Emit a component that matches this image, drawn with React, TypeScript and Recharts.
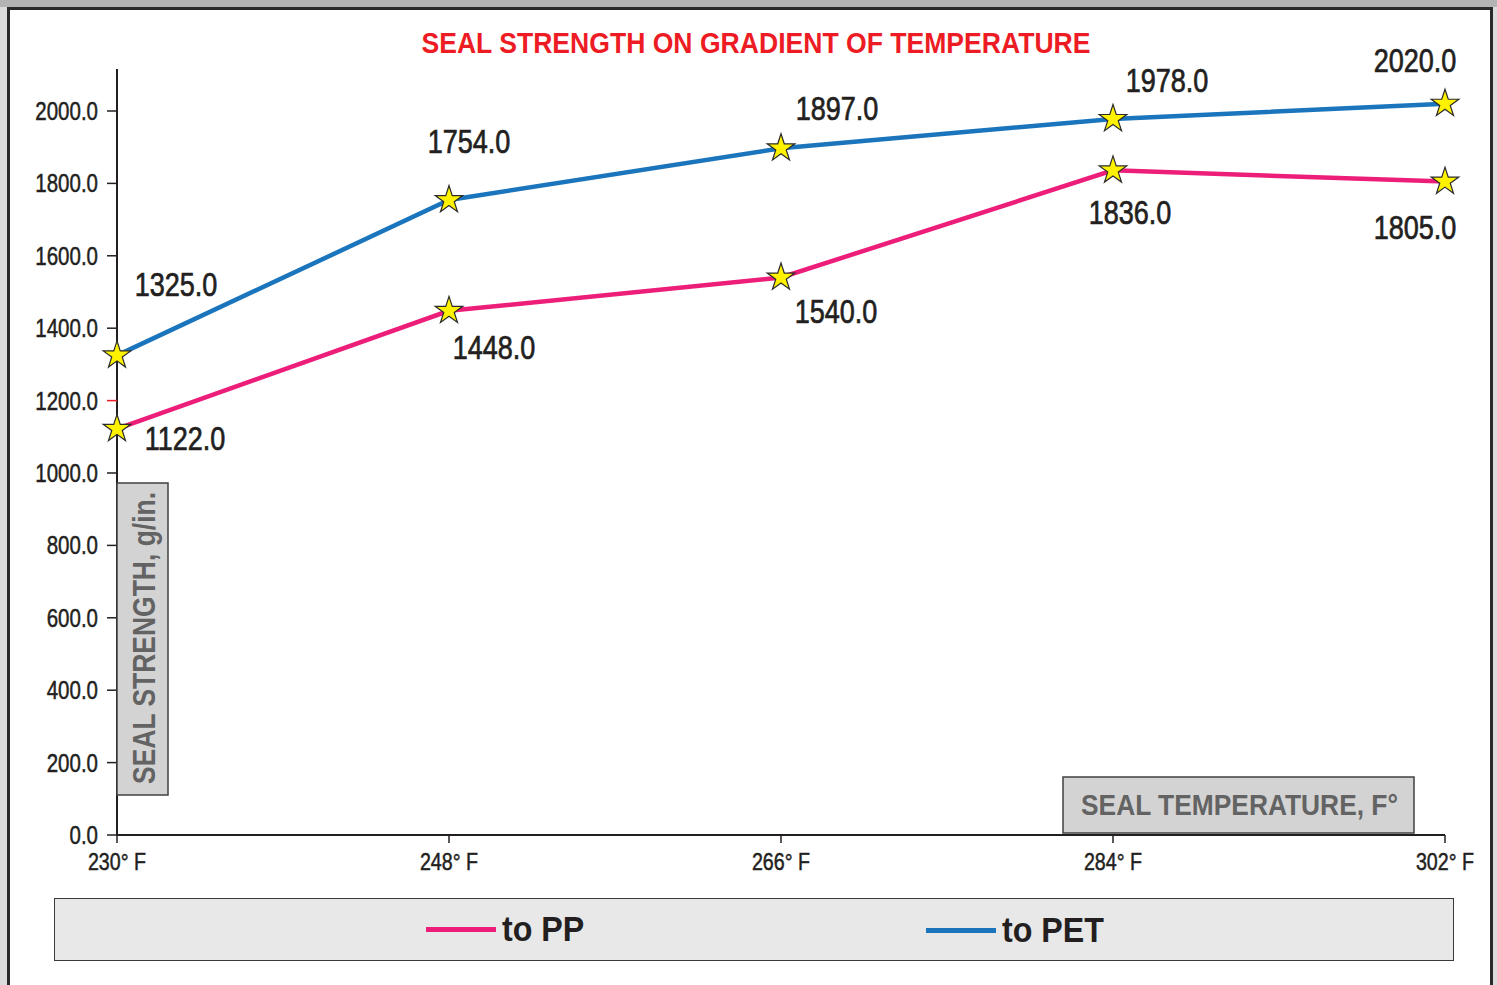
import React from 'react';
import { LineChart, Line, XAxis, YAxis, LabelList, Legend } from 'recharts';

const temps = ['230° F', '248° F', '266° F', '284° F', '302° F'];
const toPP = [1122, 1448, 1540, 1836, 1805];
const toPET = [1325, 1754, 1897, 1978, 2020];
const yTicks = [0, 200, 400, 600, 800, 1000, 1200, 1400, 1600, 1800, 2000];

// where each value label sits relative to its star (dx to text centre, dy to baseline)
const petLabelOffsets = [[59, -59], [20, -47], [56, -28], [54, -27], [-30, -32]];
const ppLabelOffsets = [[68, 21], [45, 48], [55, 45], [17, 54], [-30, 57]];

const data = temps.map((t, i) => ({ temp: t, pp: toPP[i], pet: toPET[i] }));

const FONT = "'Liberation Sans', Arial, Helvetica, sans-serif";
const INK = '#231f20';
const BLUE = '#1b75bc';
const PINK = '#ed1e79';

// Helvetica Condensed look: regular sans squeezed horizontally, a touch heavier
const NText = ({ x, y, size, anchor = 'start', weight = 'normal', fill = INK, sx = 0.82, heavy = 0, children }: any) => (
  <text
    transform={`translate(${x},${y}) scale(${sx},1)`}
    x={0}
    y={0}
    textAnchor={anchor}
    fontFamily={FONT}
    fontSize={size}
    fontWeight={weight}
    fill={fill}
    stroke={heavy ? fill : 'none'}
    strokeWidth={heavy}
  >
    {children}
  </text>
);

const Star = ({ cx, cy }: { cx: number; cy: number }) => {
  const R = 14.5;
  const r = R * 0.382;
  const pts: string[] = [];
  for (let i = 0; i < 10; i++) {
    const rad = i % 2 === 0 ? R : r;
    const a = -Math.PI / 2 + (i * Math.PI) / 5;
    pts.push(`${cx + rad * Math.cos(a)},${cy + rad * Math.sin(a)}`);
  }
  return <polygon points={pts.join(' ')} fill="#fff200" stroke="#2b2b2b" strokeWidth={1.2} />;
};

const renderStar = (p: any) => <Star key={`star-${p.dataKey}-${p.index}`} cx={p.cx} cy={p.cy} />;

const makeLabel = (values: number[], offsets: number[][]) => (p: any) => {
  let i = p.index;
  if (i === undefined || i === null) i = values.indexOf(Number(p.value));
  const off = offsets[i] || [0, 0];
  return (
    <g key={`lbl-${i}`}>
      <NText x={p.x + off[0]} y={p.y + off[1]} size={33} anchor="middle" heavy={0.7}>
        {Number(p.value).toFixed(1)}
      </NText>
    </g>
  );
};

const YTick = (p: any) => {
  const v = p.payload.value;
  return (
    <g>
      <line x1={p.x} x2={p.x + 10} y1={p.y} y2={p.y} stroke={v === 1200 ? '#ed1c24' : INK} strokeWidth={1.5} />
      <NText x={p.x - 9} y={p.y + 9} size={25} anchor="end" heavy={0.5}>
        {v.toFixed(1)}
      </NText>
    </g>
  );
};

const XTick = (p: any) => (
  <g>
    <line x1={p.x} x2={p.x} y1={p.y - 8} y2={p.y} stroke={INK} strokeWidth={1.5} />
    <NText x={p.x} y={p.y + 27} size={24} anchor="middle" heavy={0.5}>
      {p.payload.value}
    </NText>
  </g>
);

const legendText: React.CSSProperties = {
  position: 'absolute',
  lineHeight: '40px',
  transform: 'scaleX(0.92)',
  transformOrigin: 'left center',
  whiteSpace: 'nowrap',
};

const LegendBox = () => (
  <div
    style={{
      position: 'relative',
      width: 1400,
      height: 63,
      boxSizing: 'border-box',
      background: '#e8e8e8',
      border: '1.5px solid #3a3a3a',
      fontFamily: FONT,
      fontWeight: 'bold',
      fontSize: 35,
      color: INK,
    }}
  >
    <div style={{ position: 'absolute', left: 371, top: 28, width: 70, height: 5, background: PINK }} />
    <div style={{ ...legendText, left: 447, top: 10 }}>to PP</div>
    <div style={{ position: 'absolute', left: 871, top: 29, width: 70, height: 5, background: BLUE }} />
    <div style={{ ...legendText, left: 947, top: 11 }}>to PET</div>
  </div>
);

export default function App() {
  return (
    <div style={{ position: 'absolute', left: 0, top: 0, width: 1497, height: 985, overflow: 'hidden', background: '#dcdcdc' }}>
      <div style={{ position: 'absolute', left: 0, top: 0, width: 1497, height: 7, background: '#b4b4b4' }} />
      <div
        style={{
          position: 'absolute',
          left: 7,
          top: 7,
          width: 1480,
          height: 1000,
          background: '#ffffff',
          border: '3px solid #2a2a2a',
        }}
      />
      <div style={{ position: 'absolute', left: 0, top: 0 }}>
        <LineChart width={1497} height={985} data={data} margin={{ top: 69, right: 52, bottom: 110, left: 0 }}>
          <XAxis
            dataKey="temp"
            height={40}
            padding={{ left: 0, right: 0 }}
            axisLine={{ stroke: INK, strokeWidth: 2 }}
            tickLine={false}
            tickSize={8}
            tickMargin={0}
            tick={<XTick />}
            interval={0}
          />
          <YAxis
            width={117}
            domain={[0, 2116]}
            ticks={yTicks}
            axisLine={{ stroke: INK, strokeWidth: 2 }}
            tickLine={false}
            tickSize={10}
            tickMargin={0}
            tick={<YTick />}
            interval={0}
          />
          <Legend
            verticalAlign="middle"
            align="center"
            content={() => <LegendBox />}
            wrapperStyle={{ position: 'absolute', left: 54, top: 898, width: 1400, height: 63 }}
          />
          <Line
            type="linear"
            dataKey="pp"
            name="to PP"
            stroke={PINK}
            strokeWidth={4.5}
            dot={renderStar}
            activeDot={false}
            isAnimationActive={false}
          >
            <LabelList dataKey="pp" content={makeLabel(toPP, ppLabelOffsets)} />
          </Line>
          <Line
            type="linear"
            dataKey="pet"
            name="to PET"
            stroke={BLUE}
            strokeWidth={4.5}
            dot={renderStar}
            activeDot={false}
            isAnimationActive={false}
          >
            <LabelList dataKey="pet" content={makeLabel(toPET, petLabelOffsets)} />
          </Line>
        </LineChart>
      </div>
      <svg width={1497} height={985} style={{ position: 'absolute', left: 0, top: 0, pointerEvents: 'none' }}>
        <text
          x={756}
          y={53}
          textAnchor="middle"
          fontFamily={FONT}
          fontWeight="bold"
          fontSize={29}
          fill="#ed1c24"
          textLength={669}
          lengthAdjust="spacingAndGlyphs"
        >
          SEAL STRENGTH ON GRADIENT OF TEMPERATURE
        </text>
        <rect x={117} y={483} width={51} height={312} fill="#d3d3d3" stroke="#404040" strokeWidth={1.5} />
        <text
          transform="translate(155, 784) rotate(-90)"
          fontFamily={FONT}
          fontWeight="bold"
          fontSize={31}
          fill="#636363"
          textLength={292}
          lengthAdjust="spacingAndGlyphs"
        >
          SEAL STRENGTH, g/in.
        </text>
        <rect x={1063} y={777} width={351} height={56} fill="#d3d3d3" stroke="#404040" strokeWidth={1.5} />
        <text
          x={1081}
          y={815}
          fontFamily={FONT}
          fontWeight="bold"
          fontSize={29}
          fill="#636363"
          textLength={317}
          lengthAdjust="spacingAndGlyphs"
        >
          SEAL TEMPERATURE, F°
        </text>
      </svg>
    </div>
  );
}
